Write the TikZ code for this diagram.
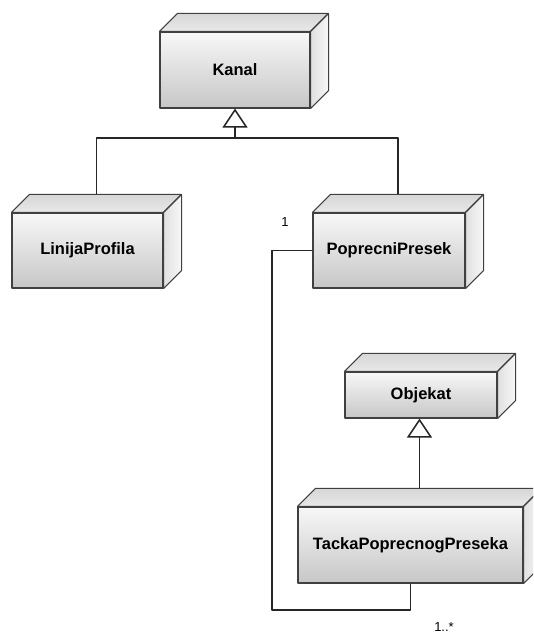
\documentclass[tikz,border=0pt]{standalone}
\usepackage{fontspec}
\setmainfont{Liberation Sans}
\usetikzlibrary{arrows.meta}

\tikzset{
  classbox/.style={draw=black!75,line width=1.2pt,rectangle,inner sep=0pt,
    shade,top color=black!3,bottom color=black!22,
    font=\fontsize{16.5}{18}\selectfont\bfseries},
  topface/.style={draw=black!75,line width=1.1pt,line join=bevel,shade,top color=black!16,bottom color=black!9},
  sideface/.style={draw=black!75,line width=1.1pt,line join=bevel,shade,left color=black!12,right color=black!3},
  link/.style={draw=black!85,line width=1.5pt},
  inherit/.style={link,-{Triangle[open,length=19pt,width=25pt,fill=white]}},
  mult/.style={font=\fontsize{13}{15}\selectfont},
}

\begin{document}
\begin{tikzpicture}[x=1pt,y=-1pt,line join=bevel]
\clip (0,0) rectangle (533,634);
\fill[white] (0,0) rectangle (533,634);
%%
\node (node_kanal) at (235,70) [classbox,minimum width=150pt,minimum height=76pt] {Kanal};
\node (node_linija) at (87.5,250.5) [classbox,minimum width=151pt,minimum height=75pt] {LinijaProfila};
\node (node_poprecni) at (389,250.5) [classbox,minimum width=152pt,minimum height=75pt] {PoprecniPresek};
\node (node_objekat) at (421,395) [classbox,minimum width=152pt,minimum height=46pt] {Objekat};
\node (node_tacka) at (410.5,545) [classbox,minimum width=225pt,minimum height=76pt] {TackaPoprecnogPreseka};
%
\foreach \n in {node_kanal,node_linija,node_poprecni,node_objekat,node_tacka}{
  \path[topface] (\n.north west) -- ++(18,-18) -- ([shift={(18,-18)}]\n.north east) -- (\n.north east) -- cycle;
  \path[sideface] (\n.north east) -- ++(18,-18) -- ([shift={(18,-18)}]\n.south east) -- (\n.south east) -- cycle;
}
%
\coordinate (gen_kanal) at (235,138);
\coordinate (top_linija) at ([shift={(9,-18)}]node_linija.north);
\coordinate (top_poprecni) at ([shift={(9,-18)}]node_poprecni.north);
\coordinate (top_tacka) at ([shift={(9,-18)}]node_tacka.north);
\coordinate (assoc_corner) at (272,610);
\draw[link] (top_linija) |- (gen_kanal) -| (top_poprecni);
\draw[inherit] (gen_kanal) -- (node_kanal.south);
\draw[inherit] (top_tacka) -- (top_tacka |- node_objekat.south);
\draw[link] (node_poprecni.west) -| (assoc_corner) -| (node_tacka.south);
%
\node (mult_one) at (285,222) [mult] {1};
\node (mult_many) at (444,627) [mult] {1..*};
%
\end{tikzpicture}
\end{document}
